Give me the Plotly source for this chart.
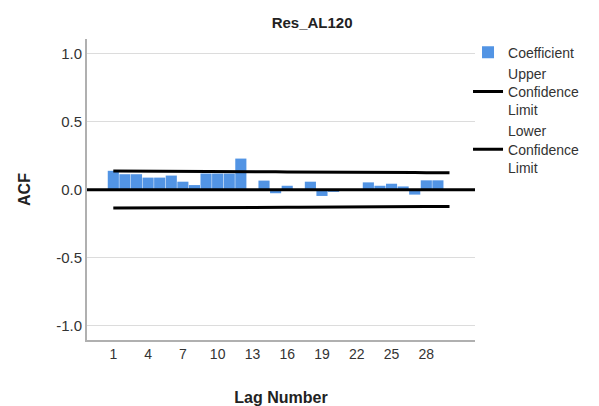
import plotly.graph_objects as go

lags = list(range(1, 31))
acf = [0.14, 0.115, 0.115, 0.09, 0.09, 0.105, 0.06, 0.035, 0.12, 0.12,
       0.12, 0.23, 0.004, 0.068, -0.025, 0.03, 0.004, 0.06, -0.045, -0.015,
       0.003, 0.004, 0.055, 0.03, 0.045, 0.025, -0.035, 0.07, 0.07, 0.004]
upper = [0.138, 0.138, 0.137, 0.137, 0.137, 0.136, 0.136, 0.136, 0.135, 0.135,
         0.135, 0.134, 0.134, 0.133, 0.133, 0.132, 0.132, 0.131, 0.131, 0.130,
         0.130, 0.129, 0.129, 0.128, 0.128, 0.127, 0.127, 0.126, 0.126, 0.125]
lower = [-0.134, -0.134, -0.133, -0.133, -0.133, -0.132, -0.132, -0.132, -0.131, -0.131,
         -0.131, -0.130, -0.130, -0.129, -0.129, -0.129, -0.128, -0.128, -0.127, -0.127,
         -0.126, -0.126, -0.125, -0.125, -0.124, -0.124, -0.123, -0.123, -0.122, -0.122]
xticks = [1, 4, 7, 10, 13, 16, 19, 22, 25, 28]
yticks = [-1.0, -0.5, 0.0, 0.5, 1.0]

font = "Liberation Sans, Arial, sans-serif"
fig = go.Figure()
fig.add_trace(go.Bar(x=lags, y=acf, name="Coefficient", width=0.96,
                     marker=dict(color="#5294e4", line=dict(width=0))))
fig.add_trace(go.Scatter(x=lags, y=upper, mode="lines",
                         name="Upper<br>Confidence<br>Limit",
                         line=dict(color="black", width=3)))
fig.add_trace(go.Scatter(x=lags, y=lower, mode="lines",
                         name="Lower<br>Confidence<br>Limit",
                         line=dict(color="black", width=3)))

fig.add_hline(y=0, line=dict(color="black", width=3))

fig.update_layout(
    width=599, height=406,
    margin=dict(l=87, r=124, t=39, b=66),
    paper_bgcolor="white", plot_bgcolor="white",
    font=dict(family=font, size=14, color="#333333"),
    title=dict(text="<b>Res_AL120</b>", x=0.521, xanchor="center",
               y=1 - 23 / 406, yanchor="middle",
               font=dict(family=font, size=15, color="#222222")),
    showlegend=True,
    legend=dict(x=0.982, xanchor="left", y=1.008, yanchor="top",
                font=dict(family=font, size=14, color="#333333"),
                itemwidth=30, tracegroupgap=4, bgcolor="rgba(0,0,0,0)"),
    bargap=0.04,
)
fig.update_xaxes(range=[-1.27, 32.2], tickmode="array", tickvals=xticks,
                 ticktext=[str(t) for t in xticks], showgrid=False,
                 showline=True, linecolor="#b0b0b0", linewidth=2,
                 ticks="", ticklen=0, zeroline=False, automargin=False,
                 title=dict(text="<b>Lag Number</b>", standoff=32,
                            font=dict(family=font, size=16, color="#222222")),
                 tickfont=dict(family=font, size=14, color="#333333"))
fig.update_yaxes(range=[-1.105, 1.11], tickmode="array", tickvals=yticks,
                 ticktext=["-1.0", "-0.5", "0.0", "0.5", "1.0"],
                 showgrid=True, gridcolor="#dcdcdc", gridwidth=1,
                 showline=True, linecolor="#b0b0b0", linewidth=2,
                 ticks="", zeroline=False, automargin=False,
                 title=dict(text="<b>ACF</b>", standoff=22,
                            font=dict(family=font, size=16, color="#222222")),
                 tickfont=dict(family=font, size=15, color="#333333"))

fig.write_html("out.html")
